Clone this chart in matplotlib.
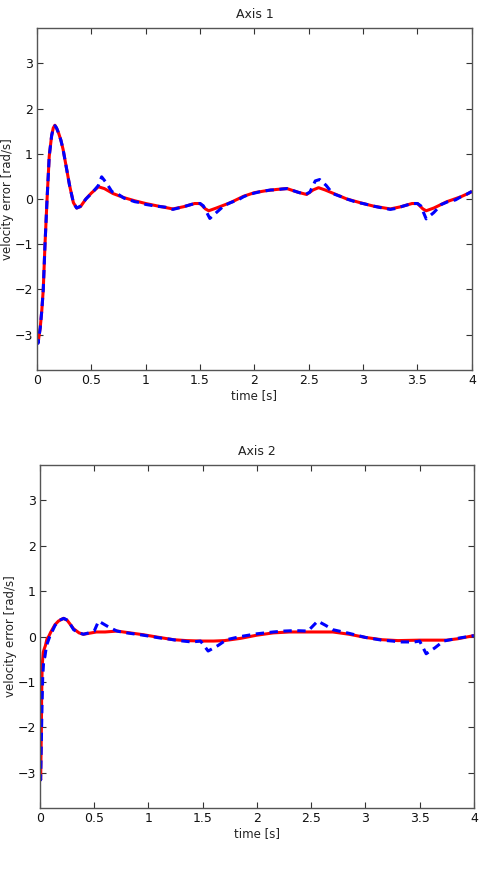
import numpy as np
import matplotlib
matplotlib.use("Agg")
import matplotlib.pyplot as plt

# Axis 1 -- reference (red, solid) and measured (blue, dashed)
t1_ref = [0, 0.01, 0.03, 0.045, 0.058, 0.074, 0.093, 0.113, 0.135, 0.15, 0.165,
          0.18, 0.2, 0.22, 0.24, 0.27, 0.30, 0.335, 0.365, 0.4, 0.45, 0.5, 0.565, 0.62,
          0.7, 0.8, 0.9, 1.0, 1.1, 1.25, 1.35, 1.45, 1.5, 1.55, 1.58, 1.65, 1.78,
          1.9, 2.0, 2.1, 2.2, 2.3, 2.4, 2.48, 2.54, 2.59, 2.65, 2.75, 2.85, 3.0,
          3.1, 3.25, 3.35, 3.45, 3.5, 3.55, 3.58, 3.65, 3.77, 3.9, 4.0]
e1_ref = [-3.15, -3.18, -2.85, -2.45, -2.0, -1.0, 0.0, 0.95, 1.4, 1.57, 1.63,
          1.57, 1.45, 1.3, 1.1, 0.7, 0.3, -0.08, -0.2, -0.17, 0.0, 0.13, 0.27, 0.23,
          0.12, 0.03, -0.04, -0.1, -0.15, -0.22, -0.17, -0.1, -0.1, -0.22, -0.26, -0.2, -0.08,
          0.06, 0.14, 0.18, 0.21, 0.23, 0.15, 0.1, 0.2, 0.25, 0.2, 0.1, 0.0, -0.1,
          -0.16, -0.22, -0.17, -0.1, -0.1, -0.22, -0.26, -0.2, -0.06, 0.05, 0.16]

t1_meas = [0, 0.01, 0.03, 0.045, 0.058, 0.074, 0.093, 0.113, 0.135, 0.15, 0.165,
           0.18, 0.2, 0.22, 0.24, 0.27, 0.30, 0.335, 0.365, 0.4, 0.45, 0.5, 0.53, 0.565,
           0.595, 0.64, 0.69, 0.75, 0.8, 0.85, 0.9, 0.95, 1.0, 1.05, 1.1, 1.18,
           1.25, 1.3, 1.35, 1.45, 1.5, 1.53, 1.59, 1.65, 1.72, 1.78, 1.85, 1.9,
           1.95, 2.0, 2.05, 2.1, 2.15, 2.2, 2.25, 2.3, 2.4, 2.47, 2.51, 2.56, 2.6,
           2.66, 2.72, 2.8, 2.85, 2.9, 2.95, 3.0, 3.05, 3.1, 3.18, 3.25, 3.3, 3.35,
           3.45, 3.5, 3.53, 3.58, 3.65, 3.72, 3.78, 3.85, 3.9, 3.95, 4.0]
e1_meas = [-3.1, -3.19, -2.85, -2.45, -2.0, -1.0, 0.0, 0.95, 1.4, 1.57, 1.62,
           1.57, 1.45, 1.3, 1.1, 0.7, 0.3, -0.08, -0.2, -0.16, 0.0, 0.12, 0.2, 0.3,
           0.49, 0.35, 0.16, 0.1, 0.02, -0.02, -0.06, -0.08, -0.12, -0.14, -0.16, -0.18,
           -0.23, -0.2, -0.17, -0.1, -0.1, -0.15, -0.43, -0.3, -0.15, -0.08, -0.02, 0.05,
           0.1, 0.13, 0.16, 0.18, 0.2, 0.2, 0.22, 0.23, 0.15, 0.1, 0.15, 0.4, 0.43,
           0.3, 0.12, 0.05, 0.0, -0.04, -0.08, -0.1, -0.13, -0.16, -0.2, -0.23, -0.21, -0.17,
           -0.1, -0.1, -0.15, -0.44, -0.3, -0.12, -0.06, -0.02, 0.05, 0.1, 0.17]

# Axis 2
t2_ref = [0, 0.006, 0.012, 0.015, 0.02, 0.03, 0.037, 0.05, 0.065, 0.08, 0.1,
          0.138, 0.17, 0.215, 0.25, 0.31, 0.36, 0.4, 0.45, 0.52, 0.6, 0.71, 0.8,
          0.95, 1.1, 1.23, 1.35, 1.5, 1.6, 1.7, 1.85, 2.0, 2.15, 2.3, 2.5, 2.7,
          2.85, 3.0, 3.15, 3.3, 3.5, 3.75, 3.85, 4.0]
e2_ref = [-3.0, -3.16, -2.2, -1.4, -0.65, -0.35, -0.29, -0.2, -0.05, 0.0, 0.1,
          0.26, 0.34, 0.4, 0.36, 0.17, 0.08, 0.05, 0.07, 0.1, 0.1, 0.12, 0.09,
          0.04, -0.02, -0.07, -0.09, -0.1, -0.1, -0.09, -0.04, 0.03, 0.08, 0.1, 0.1, 0.1,
          0.05, -0.02, -0.07, -0.09, -0.08, -0.08, -0.05, 0.02]

t2_meas = [0, 0.006, 0.012, 0.018, 0.025, 0.035, 0.045, 0.06, 0.09, 0.14, 0.18,
           0.22, 0.26, 0.31, 0.36, 0.4, 0.45, 0.5, 0.54, 0.64, 0.71, 0.8, 0.95,
           1.05, 1.1, 1.2, 1.25, 1.32, 1.4, 1.48, 1.55, 1.64, 1.72, 1.85, 2.0, 2.15,
           2.25, 2.35, 2.47, 2.56, 2.63, 2.7, 2.85, 3.0, 3.15, 3.25, 3.32, 3.45,
           3.5, 3.56, 3.64, 3.72, 3.85, 4.0]
e2_meas = [-3.1, -3.16, -2.4, -1.6, -0.9, -0.5, -0.45, -0.2, 0.0, 0.25, 0.36,
           0.4, 0.35, 0.15, 0.08, 0.05, 0.08, 0.12, 0.34, 0.2, 0.12, 0.08, 0.03,
           -0.01, -0.03, -0.06, -0.08, -0.1, -0.12, -0.1, -0.32, -0.2, -0.07, 0.0, 0.06, 0.1,
           0.12, 0.13, 0.12, 0.34, 0.25, 0.15, 0.07, -0.02, -0.08, -0.1, -0.12, -0.12,
           -0.1, -0.38, -0.25, -0.1, -0.04, 0.02]

titles = ["Axis 1", "Axis 2"]
x_ticks = [0, 0.5, 1, 1.5, 2, 2.5, 3, 3.5, 4]
x_ticklabels = ["0", "0.5", "1", "1.5", "2", "2.5", "3", "3.5", "4"]
y_ticks = [-3, -2, -1, 0, 1, 2, 3]

plt.rcParams["font.family"] = "DejaVu Sans"
plt.rcParams["lines.scale_dashes"] = False

fig = plt.figure(figsize=(4.8, 8.72), dpi=100)
positions = [[0.077, 0.5757, 0.906, 0.3922],
             [0.0833, 0.0734, 0.904, 0.3933]]
data = [(t1_ref, e1_ref, t1_meas, e1_meas),
        (t2_ref, e2_ref, t2_meas, e2_meas)]

for pos, title, (tr, er, tm, em) in zip(positions, titles, data):
    ax = fig.add_axes(pos)
    ax.plot(tr, er, color="red", lw=2.2, solid_capstyle="round")
    ax.plot(tm, em, color="blue", lw=2.2, dashes=(6, 4))
    ax.set_xlim(0, 4)
    ax.set_ylim(-3.78, 3.78)
    ax.set_xticks(x_ticks)
    ax.set_xticklabels(x_ticklabels)
    ax.set_yticks(y_ticks)
    ax.tick_params(direction="in", top=True, right=True, length=4,
                   width=0.8, labelsize=9, colors="#333333", pad=3)
    ax.tick_params(labelcolor="#111111")
    for sp in ax.spines.values():
        sp.set_color("#555555")
        sp.set_linewidth(1.0)
    ax.set_title(title, fontsize=9, color="#222222", pad=7)
    ax.set_xlabel("time [s]", fontsize=8.5, color="#222222", labelpad=1)
    ax.set_ylabel("velocity error [rad/s]", fontsize=8.5, color="#222222")
    ax.yaxis.set_label_coords(-0.052, 0.5)

fig.savefig("out.png", dpi=100)
